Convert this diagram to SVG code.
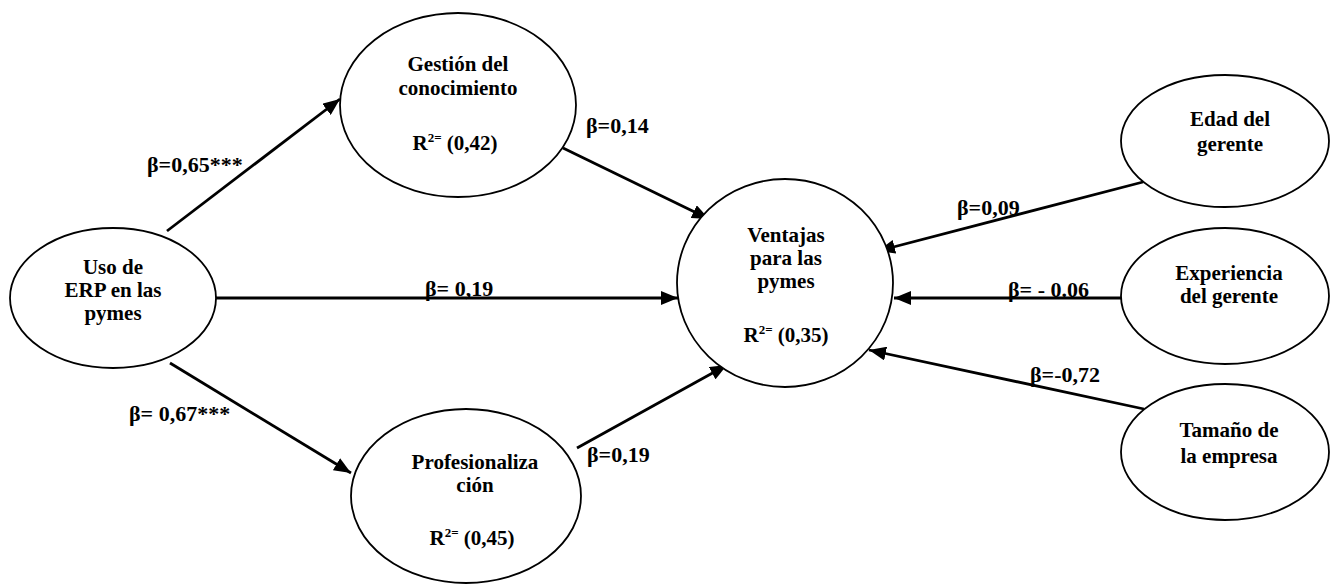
<svg xmlns="http://www.w3.org/2000/svg" width="1330" height="587" viewBox="0 0 1330 587">
  <style>
    .node { fill: #ffffff; stroke: #000000; stroke-width: 1.8; }
    .lbl { font-weight: bold; font-size: 21px; fill: #000000; }
    .coef { font-size: 22px; }
    .mid { text-anchor: middle; }
    .sup { font-size: 13px; }
    .edge { stroke: #000000; stroke-width: 2.8; fill: none; marker-end: url(#arrow); }
  </style>
  <defs>
    <marker id="arrow" markerUnits="userSpaceOnUse" markerWidth="18" markerHeight="14" refX="17" refY="7" orient="auto">
      <path d="M0,0 L17,7 L0,14 z" fill="#000000"/>
    </marker>
  </defs>
  <rect width="1330" height="587" fill="#ffffff"/>

  <!-- paths between constructs -->
  <g id="connectors">
    <line class="edge" x1="167" y1="231" x2="340" y2="99"/>
    <line class="edge" x1="170" y1="363" x2="351" y2="473"/>
    <line class="edge" x1="216" y1="298" x2="678" y2="298"/>
    <line class="edge" x1="563" y1="148" x2="709" y2="219"/>
    <line class="edge" x1="577" y1="448" x2="727" y2="365"/>
    <line class="edge" x1="1143" y1="182" x2="878" y2="251"/>
    <line class="edge" x1="1122" y1="298" x2="894" y2="298"/>
    <line class="edge" x1="1144" y1="409" x2="869" y2="350"/>
  </g>

  <g font-family="'Liberation Serif', 'DejaVu Serif', serif">
  <!-- path coefficients -->
  <g id="coefficients">
    <text class="lbl coef" x="147" y="172">β=0,65***</text>
    <text class="lbl coef" x="129" y="421">β= 0,67***</text>
    <text class="lbl coef" x="425" y="296">β= 0,19</text>
    <text class="lbl coef" x="586" y="133">β=0,14</text>
    <text class="lbl coef" x="587" y="462">β=0,19</text>
    <text class="lbl coef" x="957" y="215">β=0,09</text>
    <text class="lbl coef" x="1008" y="297">β= - 0.06</text>
    <text class="lbl coef" x="1030" y="382">β=-0,72</text>
  </g>

  <g id="uso-erp">
    <ellipse class="node" cx="113" cy="298" rx="103" ry="70"/>
    <text class="lbl mid" x="113" y="274">Uso de</text>
    <text class="lbl mid" x="113" y="297">ERP en las</text>
    <text class="lbl mid" x="113" y="320">pymes</text>
  </g>

  <g id="gestion-conocimiento">
    <ellipse class="node" cx="458" cy="105" rx="118" ry="92"/>
    <text class="lbl mid" x="458" y="71">Gestión del</text>
    <text class="lbl mid" x="458" y="95">conocimiento</text>
    <text class="lbl mid" x="455" y="150">R<tspan class="sup" dy="-8">2=</tspan><tspan dy="8"> (0,42)</tspan></text>
  </g>

  <g id="profesionalizacion">
    <ellipse class="node" cx="466" cy="496" rx="115" ry="87"/>
    <text class="lbl mid" x="475" y="469">Profesionaliza</text>
    <text class="lbl mid" x="475" y="492">ción</text>
    <text class="lbl mid" x="472" y="545">R<tspan class="sup" dy="-8">2=</tspan><tspan dy="8"> (0,45)</tspan></text>
  </g>

  <g id="ventajas-pymes">
    <ellipse class="node" cx="785" cy="283" rx="108" ry="104"/>
    <text class="lbl mid" x="786" y="242">Ventajas</text>
    <text class="lbl mid" x="786" y="265">para las</text>
    <text class="lbl mid" x="786" y="288">pymes</text>
    <text class="lbl mid" x="786" y="342">R<tspan class="sup" dy="-8">2=</tspan><tspan dy="8"> (0,35)</tspan></text>
  </g>

  <g id="edad-gerente">
    <ellipse class="node" cx="1225" cy="141" rx="104" ry="66"/>
    <text class="lbl mid" x="1230" y="126">Edad del</text>
    <text class="lbl mid" x="1230" y="151">gerente</text>
  </g>

  <g id="experiencia-gerente">
    <ellipse class="node" cx="1225" cy="296" rx="104" ry="68"/>
    <text class="lbl mid" x="1229" y="280">Experiencia</text>
    <text class="lbl mid" x="1229" y="303">del gerente</text>
  </g>

  <g id="tamano-empresa">
    <ellipse class="node" cx="1225" cy="452" rx="104" ry="68"/>
    <text class="lbl mid" x="1229" y="437">Tamaño de</text>
    <text class="lbl mid" x="1229" y="463">la empresa</text>
  </g>
  </g>
</svg>
